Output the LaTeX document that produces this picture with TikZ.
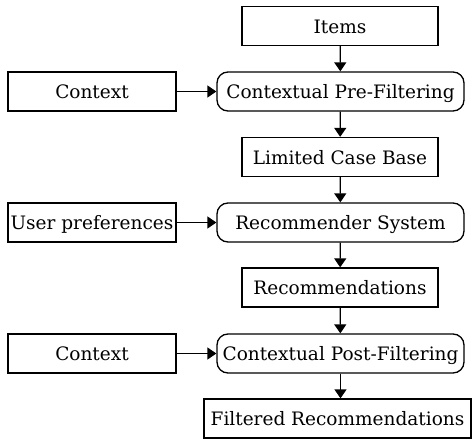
\documentclass[tikz,border=0pt]{standalone}
\usepackage{fontspec}
\setmainfont{DejaVu Serif}
\usetikzlibrary{arrows.meta}

\begin{document}
\begin{tikzpicture}[x=1pt,y=-1pt,
  box/.style={draw,line width=1.3pt,minimum height=39pt,inner sep=0pt,
    text height=16pt,text depth=2pt,font=\fontsize{18.5}{22}\selectfont},
  stage/.style={box,rounded corners=11pt,minimum width=247pt},
  flow/.style={line width=1.3pt,-{Triangle[width=12pt,length=9pt]}}]
  \useasboundingbox (0,0) rectangle (472,439);
  % main column
  \node[box,minimum width=196pt] (items) at (340,26) {Items};
  \node[stage] (pre) at (340.5,91.5) {Contextual Pre-Filtering};
  \node[box,minimum width=196pt] (limited) at (340,157) {Limited Case Base};
  \node[stage] (recsys) at (340.5,222.5) {Recommender System};
  \node[box,minimum width=196pt] (recs) at (340,287.5) {Recommendations};
  \node[stage] (post) at (340.5,353.5) {Contextual Post-Filtering};
  \node[box,minimum width=267pt] (filtered) at (337.5,418.5) {Filtered Recommendations};
  % inputs on the left
  \node[box,minimum width=168pt] (ctxpre) at (92,91.5) {Context};
  \node[box,minimum width=168pt] (user) at (92,222.5) {User preferences};
  \node[box,minimum width=168pt] (ctxpost) at (92,353.5) {Context};
  \draw[flow] (items) -- (pre);
  \draw[flow] (pre) -- (limited);
  \draw[flow] (limited) -- (recsys);
  \draw[flow] (recsys) -- (recs);
  \draw[flow] (recs) -- (post);
  \draw[flow] (post.south) -- (post.south |- filtered.north);
  \draw[flow] (ctxpre) -- (pre);
  \draw[flow] (user) -- (recsys);
  \draw[flow] (ctxpost) -- (post);
\end{tikzpicture}
\end{document}
